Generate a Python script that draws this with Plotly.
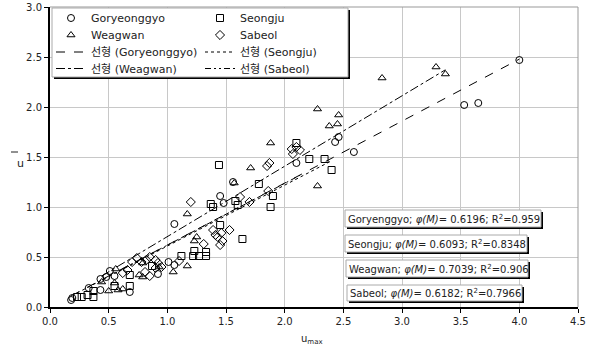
import plotly.graph_objects as go

# ---------------- data ----------------
gory_x = [0.18, 0.19, 0.33, 0.43, 0.43, 0.48, 0.51, 0.55, 0.68, 0.92, 1.01, 1.06, 1.06, 1.45, 1.48, 1.56,
          2.10, 2.43, 2.46, 2.59, 3.53, 3.65, 4.00]
gory_y = [0.07, 0.09, 0.19, 0.28, 0.17, 0.30, 0.36, 0.31, 0.15, 0.33, 0.45, 0.42, 0.83, 1.11, 1.04, 1.25,
          1.44, 1.65, 1.70, 1.55, 2.02, 2.04, 2.47]

seong_x = [0.23, 0.27, 0.32, 0.37, 0.37, 0.55, 0.68, 0.68, 0.87, 1.12, 1.22, 1.23, 1.27, 1.33, 1.33, 1.37,
           1.39, 1.44, 1.45, 1.58, 1.60, 1.64, 1.78, 1.88, 1.90, 2.10, 2.21, 2.34, 2.40]
seong_y = [0.10, 0.10, 0.12, 0.10, 0.16, 0.21, 0.32, 0.21, 0.41, 0.51, 0.51, 0.56, 0.51, 0.51, 0.55, 1.03,
           1.00, 1.42, 0.82, 1.06, 1.02, 0.68, 1.23, 1.00, 1.11, 1.64, 1.48, 1.48, 1.37]

weag_x = [0.44, 0.50, 0.55, 0.56, 0.58, 0.62, 0.76, 0.79, 0.79, 0.93, 1.05, 1.17, 1.17, 1.23, 1.25, 1.57,
          1.71, 1.88, 2.28, 2.28, 2.38, 2.45, 2.46, 2.83, 3.29, 3.37]
weag_y = [0.25, 0.16, 0.24, 0.38, 0.17, 0.18, 0.32, 0.30, 0.44, 0.40, 0.35, 0.41, 0.93, 0.66, 0.70, 1.24,
          1.39, 1.64, 1.98, 1.21, 1.81, 1.83, 1.92, 2.29, 2.40, 2.33]

sab_x = [0.62, 0.66, 0.70, 0.74, 0.78, 0.81, 0.82, 0.85, 0.85, 0.90, 0.90, 0.92, 0.95, 1.10, 1.20, 1.31,
         1.39, 1.41, 1.43, 1.46, 1.45, 1.47, 1.53, 1.62, 1.70, 1.85, 1.87, 1.86, 2.06, 2.07, 2.10, 2.13]
sab_y = [0.34, 0.37, 0.45, 0.49, 0.45, 0.35, 0.47, 0.50, 0.31, 0.47, 0.39, 0.44, 0.40, 0.46, 1.05, 0.63,
         0.77, 0.72, 0.70, 0.74, 0.62, 0.66, 0.77, 1.10, 1.05, 1.41, 1.44, 1.16, 1.58, 1.53, 1.60, 1.57]

series_names = ["Goryeonggyo", "Seongju", "Weagwan", "Sabeol"]
box_names = ["Goryenggyo", "Seongju", "Weagwan", "Sabeol"]
phi = [0.6196, 0.6093, 0.7039, 0.6182]
r2 = ["0.959", "0.8348", "0.906", "0.7966"]

xs = [gory_x, seong_x, weag_x, sab_x]
ys = [gory_y, seong_y, weag_y, sab_y]
symbols = ["circle-open", "square-open", "triangle-up-open", "diamond-open"]
dashes = ["dash", "dot", "dashdot", "6px,3px,2px,3px,2px,3px"]

FONT = "DejaVu Sans, Verdana, Noto Sans CJK KR, sans-serif"

L, R, T, B = 50, 12, 7, 42
W, H = 590, 349
pw, ph = W - L - R, H - T - B

def px2paper(px, py):
    return (px - L) / pw, (H - B - py) / ph

# legend grid positions (pixel anchors)
col_px = [51, 200]
row_px = [18, 35, 52, 68.5]

fig = go.Figure()
legend_layouts = {}
leg_common = dict(orientation="v", yanchor="middle", xanchor="left", bgcolor="rgba(0,0,0,0)",
                  borderwidth=0, font=dict(family=FONT, size=11, color="#222"),
                  itemwidth=30, tracegroupgap=0, visible=True)

def add_legend(col, row):
    slot = col * 4 + row
    key = "legend" if slot == 0 else f"legend{slot + 1}"
    lx, ly = px2paper(col_px[col], row_px[row])
    legend_layouts[key] = dict(x=lx, y=ly, **leg_common)
    return key

for i in range(4):
    key = add_legend(i % 2, i // 2)
    fig.add_trace(go.Scatter(
        x=xs[i], y=ys[i], mode="markers", name=series_names[i], legend=key, showlegend=True,
        marker=dict(symbol=symbols[i], size=7, color="black", line=dict(width=1, color="black")),
    ))
for i in range(4):
    key = add_legend(i % 2, 2 + i // 2)
    lx = [min(xs[i]), max(xs[i])]
    ly = [phi[i] * v for v in lx]
    fig.add_trace(go.Scatter(
        x=lx, y=ly, mode="lines", name="선형 (" + series_names[i] + ")", legend=key, showlegend=True,
        line=dict(color="black", width=1, dash=dashes[i]),
    ))

shapes = []
annotations = []

# plot frame top/right (gray)
shapes.append(dict(type="line", xref="paper", yref="paper", x0=0, x1=1, y0=1, y1=1,
                   line=dict(color="#999999", width=1)))
shapes.append(dict(type="line", xref="paper", yref="paper", x0=1, x1=1, y0=0, y1=1,
                   line=dict(color="#999999", width=1)))

def boxed(x0, x1, y0, y1):
    a0, b0 = px2paper(x0 + 2, y0 + 2)
    a1, b1 = px2paper(x1 + 2, y1 + 2)
    shapes.append(dict(type="rect", xref="paper", yref="paper", x0=a0, x1=a1, y0=b1, y1=b0,
                       fillcolor="black", line=dict(width=0), layer="above"))
    a0, b0 = px2paper(x0, y0)
    a1, b1 = px2paper(x1, y1)
    shapes.append(dict(type="rect", xref="paper", yref="paper", x0=a0, x1=a1, y0=b1, y1=b0,
                       fillcolor="white", line=dict(width=1, color="#aaaaaa"), layer="above"))

# legend box
boxed(52, 348, 8, 77)

# text boxes
box_px = [(345, 541, 210, 227), (345, 527, 235, 252), (346, 528, 260, 277), (347, 522, 285, 301)]
for i in range(4):
    x0, x1, y0, y1 = box_px[i]
    boxed(x0, x1, y0, y1)
    cx, cy = px2paper(x0 + 1, (y0 + y1) / 2)
    annotations.append(dict(
        xref="paper", yref="paper", x=cx, y=cy, xanchor="left", yanchor="middle", showarrow=False,
        text=f"{box_names[i]}; <i>φ(M)</i>= {phi[i]:.4f}; R<sup>2</sup>={r2[i]}",
        font=dict(family=FONT, size=10, color="#222")))

# axis titles
ax, ay = px2paper(312, 331)
annotations.append(dict(xref="paper", yref="paper", x=ax, y=ay, yanchor="top", showarrow=False,
                        text="u<sub>max</sub>", font=dict(family=FONT, size=10, color="#222")))
ux, uy = px2paper(14.5, 163)
annotations.append(dict(xref="paper", yref="paper", x=ux, y=uy, showarrow=False,
                        text="u", font=dict(family=FONT, size=11, color="#222")))
o0x, o0y = px2paper(11, 152)
o1x, _ = px2paper(18, 152)
shapes.append(dict(type="line", xref="paper", yref="paper", x0=o0x, x1=o1x, y0=o0y, y1=o0y,
                   line=dict(color="#222", width=1)))

fig.update_layout(
    width=W, height=H,
    margin=dict(l=L, r=R, t=T, b=B, autoexpand=False),
    showlegend=True,
    paper_bgcolor="white", plot_bgcolor="white",
    font=dict(family=FONT, size=10, color="#222"),
    xaxis=dict(range=[0, 4.5], dtick=0.5, tickformat=".1f", showgrid=True, gridcolor="#c8c8c8",
               gridwidth=1, zeroline=False, showline=True, linecolor="black", linewidth=2,
               ticks="outside", ticklen=4, tickcolor="black", tickfont=dict(size=10),
               automargin=False),
    yaxis=dict(range=[0, 3], dtick=0.5, tickformat=".1f", showgrid=True, gridcolor="#c8c8c8",
               gridwidth=1, zeroline=False, showline=True, linecolor="black", linewidth=2,
               ticks="outside", ticklen=4, tickcolor="black", tickfont=dict(size=10),
               automargin=False),
    shapes=shapes,
    annotations=annotations,
    **legend_layouts,
)

fig.write_html("out.html")
